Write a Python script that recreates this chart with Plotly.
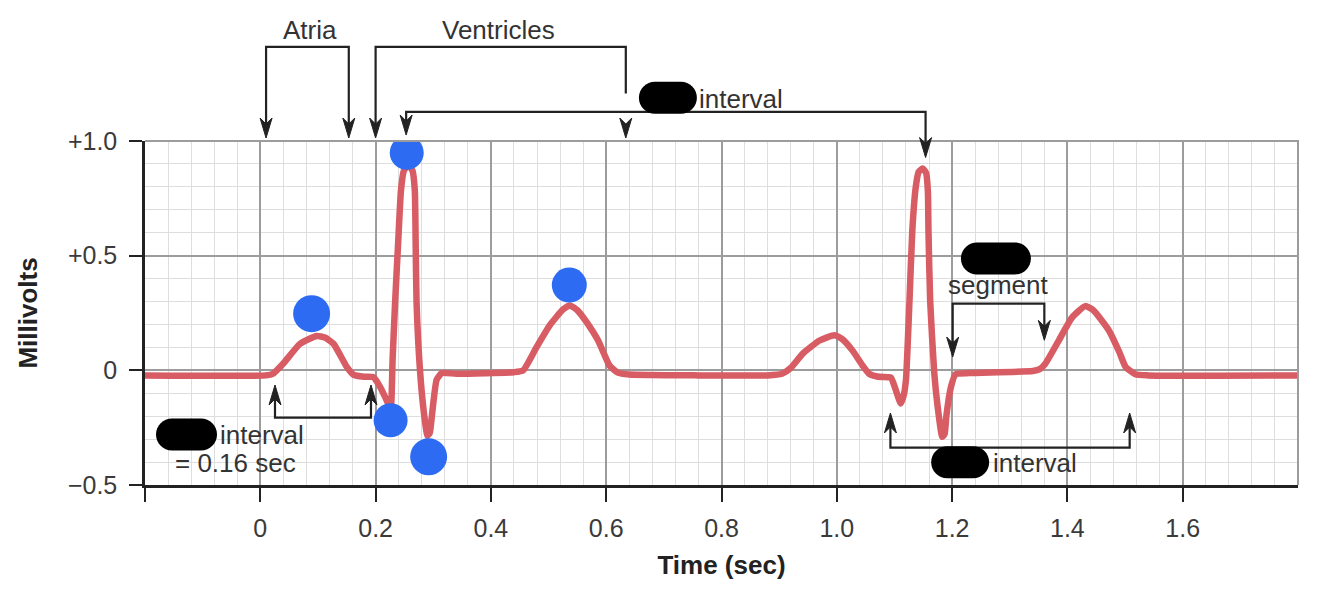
import plotly.graph_objects as go

# ECG trace: time (s) and voltage (mV)
beat1_time = [-0.200, 0.010, 0.022, 0.040, 0.069, 0.098, 0.112, 0.127, 0.150, 0.162,
              0.180, 0.196, 0.208, 0.219, 0.226, 0.2295, 0.234, 0.239, 0.244, 0.249,
              0.2565, 0.264, 0.268, 0.2695, 0.271, 0.277, 0.284, 0.290, 0.294, 0.298,
              0.306, 0.315, 0.340, 0.440, 0.456, 0.479, 0.502, 0.525, 0.537, 0.550,
              0.566, 0.586, 0.606, 0.620, 0.640, 0.760]
beat1_mv = [-0.022, -0.022, -0.015, 0.030, 0.116, 0.150, 0.143, 0.116, 0.015, -0.020,
            -0.028, -0.030, -0.073, -0.130, -0.165, 0.050, 0.305, 0.550, 0.785, 0.870,
            0.895, 0.870, 0.785, 0.550, 0.300, 0.000, -0.190, -0.285, -0.272, -0.190,
            -0.040, -0.012, -0.015, -0.008, 0.000, 0.100, 0.196, 0.265, 0.283, 0.262,
            0.210, 0.130, 0.020, -0.010, -0.018, -0.022]

beat2_time = [0.880, 0.905, 0.920, 0.941, 0.970, 0.996, 1.010, 1.027, 1.045, 1.056,
              1.070, 1.088, 1.094, 1.1025, 1.111, 1.116, 1.120, 1.126, 1.131, 1.137,
              1.142, 1.149, 1.155, 1.158, 1.159, 1.162, 1.169, 1.175, 1.183, 1.187,
              1.190, 1.198, 1.206, 1.230, 1.340, 1.352, 1.362, 1.385, 1.408, 1.431,
              1.445, 1.472, 1.490, 1.501, 1.518, 1.540, 1.800]
beat2_mv = [-0.022, -0.015, 0.010, 0.073, 0.130, 0.153, 0.135, 0.087, 0.020, -0.015,
            -0.027, -0.030, -0.032, -0.087, -0.145, -0.110, -0.040, 0.300, 0.610, 0.800,
            0.865, 0.880, 0.860, 0.780, 0.610, 0.300, -0.010, -0.160, -0.290, -0.278,
            -0.200, -0.073, -0.017, -0.012, -0.003, 0.005, 0.030, 0.130, 0.230, 0.280,
            0.262, 0.174, 0.080, 0.015, -0.017, -0.022, -0.022]

# blue dots painted over the wave
dot_time = [0.254, 0.089, 0.226, 0.292, 0.536]
dot_mv = [0.949, 0.247, -0.218, -0.377, 0.372]
dot_size = [34, 37, 34, 37, 35]

x_tickvals = [-0.2, 0, 0.2, 0.4, 0.6, 0.8, 1.0, 1.2, 1.4, 1.6]
x_ticktext = ["", "0", "0.2", "0.4", "0.6", "0.8", "1.0", "1.2", "1.4", "1.6"]
y_tickvals = [-0.5, 0, 0.5, 1.0]
y_ticktext = ["\u22120.5", "0", "+0.5", "+1.0"]

X_MIN, X_MAX = -0.2, 1.8
Y_MIN, Y_MAX = -0.5, 1.0

W, H = 1334, 590
M_L, M_R, M_T, M_B = 145, 36, 141, 105
PX_PER_MV = (H - M_T - M_B) / (Y_MAX - Y_MIN)

FONT = "Liberation Sans, Arial, Helvetica, sans-serif"
INK = "#222222"
TEXT = "#333333"
MAJOR = "#9c9c9c"
MINOR = "#dedede"


def to_paper(mv):
    return (mv - Y_MIN) / (Y_MAX - Y_MIN)


def arrow_head(x, mv, down=True):
    # notched head, tip at (x, mv), sized in pixels
    s = 1 if down else -1
    path = f"M0,0 L-6,{20 * s} L0,{14 * s} L6,{20 * s} Z"
    return dict(type="path", xref="x", yref="paper", xsizemode="pixel", ysizemode="pixel",
                xanchor=x, yanchor=to_paper(mv), path=path,
                fillcolor=INK, line=dict(color=INK, width=1))


def bracket(points):
    # polyline through (time, mV) points; the ends stop inside the arrow heads
    pts = [list(p) for p in points]
    for end, nxt in ((0, 1), (-1, -2)):
        step = 10 / PX_PER_MV
        pts[end][1] += step if pts[nxt][1] > pts[end][1] else -step
    path = "M" + " L".join(f"{x},{to_paper(y)}" for x, y in pts)
    return dict(type="path", xref="x", yref="paper", path=path,
                line=dict(color=INK, width=2.2))


def pill(x, mv, w, h):
    hw, hh = w / 2, h / 2
    r = hh
    k = 0.5523 * r
    path = (f"M{-hw + r},{hh} L{hw - r},{hh} "
            f"C{hw - r + k},{hh} {hw},{k} {hw},0 "
            f"C{hw},{-k} {hw - r + k},{-hh} {hw - r},{-hh} "
            f"L{-hw + r},{-hh} "
            f"C{-hw + r - k},{-hh} {-hw},{-k} {-hw},0 "
            f"C{-hw},{k} {-hw + r - k},{hh} {-hw + r},{hh} Z")
    return dict(type="path", xref="x", yref="paper", xsizemode="pixel", ysizemode="pixel",
                xanchor=x, yanchor=to_paper(mv), path=path,
                fillcolor="black", line=dict(width=0))


def label(text, x, mv, anchor="left"):
    return dict(text=text, x=x, y=to_paper(mv), xref="x", yref="paper",
                xanchor=anchor, yanchor="middle", showarrow=False, borderpad=0,
                font=dict(family=FONT, size=26, color=TEXT))


fig = go.Figure()

fig.add_trace(go.Scatter(
    x=beat1_time + beat2_time, y=beat1_mv + beat2_mv,
    mode="lines", line=dict(color="#d85c64", width=6.5, shape="spline", smoothing=0.5),
    hoverinfo="skip",
))

fig.add_trace(go.Scatter(
    x=dot_time, y=dot_mv, mode="markers",
    marker=dict(color="#2d6cf2", size=dot_size, opacity=1, line=dict(width=0)),
    hoverinfo="skip",
))

shapes = [
    # gray frame on the top and right
    dict(type="path", xref="paper", yref="paper", path="M0,1 L1,1 L1,0",
         line=dict(color=MAJOR, width=2)),
    # Atria
    bracket([(0.010, 1.013), (0.010, 1.410), (0.1535, 1.410), (0.1535, 1.013)]),
    arrow_head(0.010, 1.013), arrow_head(0.1535, 1.013),
    # Ventricles
    bracket([(0.200, 1.013), (0.200, 1.410), (0.634, 1.410), (0.634, 1.164)]),
    arrow_head(0.200, 1.013),
    bracket([(0.634, 1.013), (0.634, 1.106)]),
    arrow_head(0.634, 1.013),
    # QT interval
    bracket([(0.253, 1.026), (0.253, 1.127), (1.154, 1.127), (1.154, 0.928)]),
    arrow_head(0.253, 1.026), arrow_head(1.154, 0.928),
    # PR interval
    bracket([(0.0255, -0.064), (0.0255, -0.206), (0.192, -0.206), (0.192, -0.064)]),
    arrow_head(0.0255, -0.064, down=False), arrow_head(0.192, -0.064, down=False),
    # ST segment
    bracket([(1.201, 0.058), (1.201, 0.291), (1.360, 0.291), (1.360, 0.131)]),
    arrow_head(1.201, 0.058), arrow_head(1.360, 0.131),
    # interval below the second beat
    bracket([(1.093, -0.186), (1.093, -0.337), (1.508, -0.337), (1.508, -0.186)]),
    arrow_head(1.093, -0.186, down=False), arrow_head(1.508, -0.186, down=False),
    # blacked-out labels
    pill(0.707, 1.189, 58, 32),
    pill(1.276, 0.488, 70, 32),
    pill(-0.128, -0.280, 61, 32),
    pill(1.214, -0.401, 58, 32),
]

annotations = [
    label("Atria", 0.0867, 1.483, "center"),
    label("Ventricles", 0.413, 1.483, "center"),
    label("interval", 0.759, 1.185),
    label("segment", 1.280, 0.371, "center"),
    label("interval", -0.072, -0.284),
    label("= 0.16 sec", -0.0434, -0.403, "center"),
    label("interval", 1.270, -0.403),
]

fig.update_layout(
    width=W, height=H,
    margin=dict(l=M_L, r=M_R, t=M_T, b=M_B),
    paper_bgcolor="white", plot_bgcolor="white",
    showlegend=False, hovermode=False,
    font=dict(family=FONT, size=25, color=TEXT),
    shapes=shapes, annotations=annotations,
    xaxis=dict(
        range=[X_MIN, X_MAX], tickmode="array", tickvals=x_tickvals, ticktext=x_ticktext,
        ticks="outside", ticklen=14, tickwidth=2, tickcolor=INK,
        showline=True, linecolor=INK, linewidth=2.5,
        showgrid=True, gridcolor=MAJOR, gridwidth=2, zeroline=False,
        minor=dict(tickmode="linear", tick0=X_MIN, dtick=0.04, showgrid=True,
                   gridcolor=MINOR, gridwidth=1.3, ticks=""),
        tickfont=dict(family=FONT, size=25, color="#3a3a3a"),
        ticklabelstandoff=5,
        title=dict(text="Time (sec)", standoff=16,
                   font=dict(family=FONT, size=26, color=INK, weight="bold")),
    ),
    yaxis=dict(
        range=[Y_MIN, Y_MAX], tickmode="array", tickvals=y_tickvals, ticktext=y_ticktext,
        ticks="outside", ticklen=13, tickwidth=2, tickcolor=INK,
        showline=True, linecolor=INK, linewidth=2.5,
        showgrid=True, gridcolor=MAJOR, gridwidth=2, zeroline=False,
        minor=dict(tickmode="linear", tick0=Y_MIN, dtick=0.1, showgrid=True,
                   gridcolor=MINOR, gridwidth=1.3, ticks=""),
        tickfont=dict(family=FONT, size=25, color="#3a3a3a"),
        ticklabelstandoff=7,
        title=dict(text="Millivolts", standoff=23,
                   font=dict(family=FONT, size=26, color=INK, weight="bold")),
    ),
)

# the page's default body margin would shift the chart by 8px
fig.write_html("out.html", config={"displayModeBar": False},
               post_script="document.body.style.margin = '0px';")
